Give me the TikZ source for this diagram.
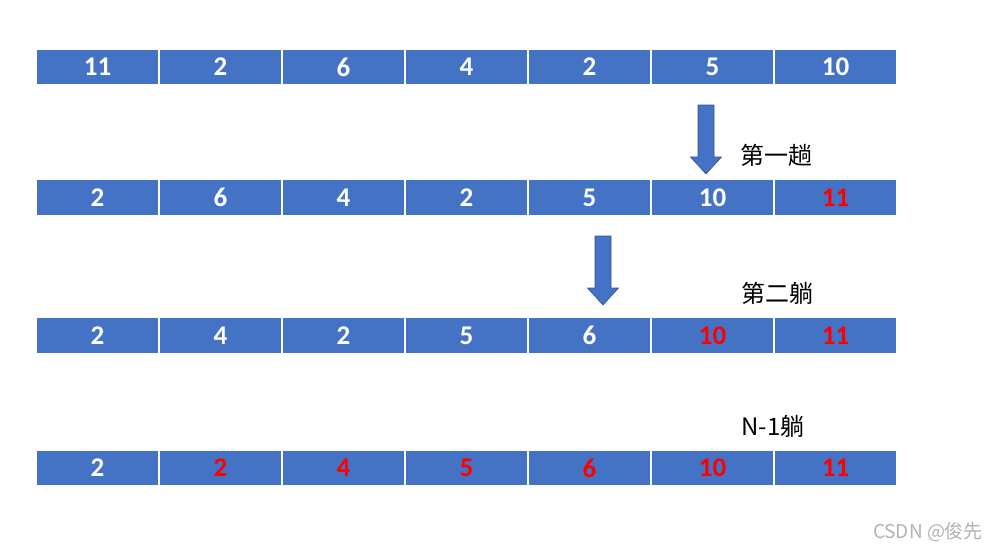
\documentclass[tikz,border=0pt]{standalone}
\usepackage{fontspec}
\setmainfont{Carlito}
\newfontfamily\cjk{Noto Sans CJK SC}
\definecolor{cellblue}{HTML}{4472C4}
\definecolor{arrowedge}{HTML}{2F528F}
\definecolor{sorted}{HTML}{FF0000}
\begin{document}
\begin{tikzpicture}[x=1pt,y=-1pt,every node/.style={inner sep=0pt}]
  \tikzset{
    cell/.style={rectangle,fill=cellblue,draw=white,line width=1.2pt,minimum width=123pt,minimum height=36pt,font=\fontsize{27}{27}\selectfont\bfseries},
    pass/.style={font=\cjk\fontsize{24}{24}\selectfont,text=black},
    blockarrow/.style={fill=cellblue,draw=arrowedge,line width=0.6pt}
  }
  \useasboundingbox (0,0) rectangle (999,551);
  \newcommand{\sortrow}[3]{%
    \begin{scope}[shift={(0,#2)}]
      % Cells of one row
      \foreach \v/\c [count=\i] in {#3} {\node[cell,text=\c] (#1c\i) at (123*\i-25.5,0) {\raisebox{-2pt}{\v}};}
    \end{scope}
  }
  \newcommand{\passarrow}[3]{%
    % Block arrow pointing down
    \draw[blockarrow] (#1-8,#2) -- (#1+8,#2) -- (#1+8,#3-17) -- (#1+15.5,#3-17) -- (#1,#3) -- (#1-15.5,#3-17) -- (#1-8,#3-17) -- cycle;
  }
  % Rows
  \sortrow{ra}{67}{11/white,2/white,6/white,4/white,2/white,5/white,10/white}
  \sortrow{rb}{197.5}{2/white,6/white,4/white,2/white,5/white,10/white,11/sorted}
  \sortrow{rc}{335.5}{2/white,4/white,2/white,5/white,6/white,10/sorted,11/sorted}
  \sortrow{rd}{468}{2/white,2/sorted,4/sorted,5/sorted,6/sorted,10/sorted,11/sorted}
  % Arrows between rows
  \passarrow{706}{105}{174}
  \passarrow{603}{236}{305}
  % Pass labels
  \node[pass] (passa) at (776,155) {第一趟};
  \node[pass] (passb) at (777,293) {第二躺};
  \node[pass] (passc) at (773,426) {N-1躺};
  % Watermark
  \node[font=\cjk\fontsize{19}{19}\selectfont,text=gray!60] (mark) at (928,532) {CSDN @俊先};
\end{tikzpicture}
\end{document}
